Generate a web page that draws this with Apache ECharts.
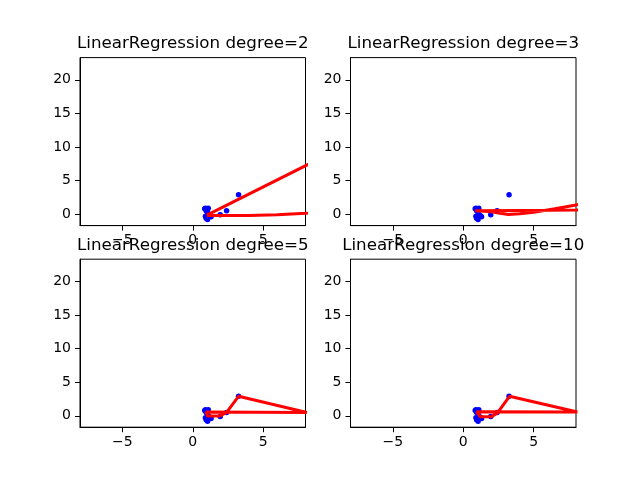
<!DOCTYPE html>
<html><head><meta charset="utf-8">
<script src="https://cdn.jsdelivr.net/npm/echarts@6/dist/echarts.min.js"></script>
<style>html,body{margin:0;padding:0;background:#fff}#c{width:640px;height:480px}</style>
</head><body><div id="c"></div>
<script>
// Scatter data (same in all panels)
var pointsX = [0.85, 0.9, 0.95, 1.0, 1.05, 1.1, 0.9, 0.95, 1.05, 1.2, 1.3, 1.95, 2.4, 3.25];
var pointsY = [0.8, 0.9, 0.5, 0.7, 0.3, 0.9, -0.3, -0.6, -0.8, -0.2, -0.4, -0.1, 0.5, 2.9];

// Fitted prediction polylines (drawn in data order)
var deg2LineX = [1.0, 12, 12, 8, 6, 4, 2, 1.0];
var deg2LineY = [-0.15, 11.4, 1.3, 0.13, -0.1, -0.2, -0.2, -0.2];
var deg3LineX = [0.85, 2.0, 2.6, 3.2, 4.0, 5.0, 6.5, 8, 12, 12, 8, 4, 0.85];
var deg3LineY = [0.5, 0.35, 0.13, -0.05, 0.05, 0.3, 0.8, 1.37, 3.0, 0.8, 0.62, 0.56, 0.5];
var deg5LineX = [8.1, 0.95, 0.9, 1.05, 1.9, 2.4, 3.25, 8.1];
var deg5LineY = [0.5, 0.55, 0.7, -0.05, -0.05, 0.5, 2.9, 0.5];
var deg10LineX = [8.1, 0.95, 0.95, 1.2, 2.0, 2.4, 3.28, 8.1];
var deg10LineY = [0.55, 0.6, 0.76, -0.13, -0.13, 0.37, 2.9, 0.55];

var titles = ['LinearRegression degree=2', 'LinearRegression degree=3', 'LinearRegression degree=5', 'LinearRegression degree=10'];
var xTicks = [-5, 0, 5];
var yTicks = [0, 5, 10, 15, 20];
var xRange = [-8, 8];
var yRange = [-1.7, 23.3];

var lines = [[deg2LineX, deg2LineY], [deg3LineX, deg3LineY], [deg5LineX, deg5LineY], [deg10LineX, deg10LineY]];

function zip(a, b) { return a.map(function (v, i) { return [v, b[i]]; }); }
function fmt(v) { return String(v).replace('-', '\u2212'); }

var font = 'DejaVu Sans';
var gridW = 225.5, gridH = 168;
var lefts = [80, 350.5], tops = [57.6, 259.2];
var grids = [], xAxes = [], yAxes = [], series = [], titleArr = [];
for (var i = 0; i < 4; i++) {
  var gx = lefts[i % 2], gy = tops[Math.floor(i / 2)];
  grids.push({ left: gx, top: gy, width: gridW, height: gridH, show: true, borderColor: '#000', borderWidth: 1, backgroundColor: '#fff' });
  xAxes.push({
    type: 'value', gridIndex: i, min: xRange[0], max: xRange[1],
    splitLine: { show: false },
    axisLine: { show: true, onZero: false, lineStyle: { color: '#000', width: 1 } },
    axisTick: { show: true, length: 5, lineStyle: { color: '#000' }, customValues: xTicks },
    axisLabel: { color: '#000', fontFamily: font, fontSize: 14, margin: 8, customValues: xTicks, formatter: fmt }
  });
  yAxes.push({
    type: 'value', gridIndex: i, min: yRange[0], max: yRange[1],
    splitLine: { show: false },
    axisLine: { show: true, onZero: false, lineStyle: { color: '#000', width: 1 } },
    axisTick: { show: true, length: 5, lineStyle: { color: '#000' }, customValues: yTicks },
    axisLabel: { color: '#000', fontFamily: font, fontSize: 14, margin: 9, customValues: yTicks, formatter: fmt }
  });
  titleArr.push({
    text: titles[i], left: gx + gridW / 2, top: gy - 22, textAlign: 'center', padding: 0,
    textStyle: { color: '#000', fontFamily: font, fontSize: 16.7, fontWeight: 'normal' }
  });
  series.push({
    type: 'scatter', xAxisIndex: i, yAxisIndex: i, data: zip(pointsX, pointsY),
    symbolSize: 5.5, itemStyle: { color: '#0000ff', opacity: 1 }, silent: true, z: 2
  });
  series.push({
    type: 'line', xAxisIndex: i, yAxisIndex: i, data: zip(lines[i][0], lines[i][1]),
    showSymbol: false, symbol: 'none', clip: true,
    lineStyle: { color: '#ff0000', width: 3 }, silent: true, z: 3, animation: false
  });
}

var chart = echarts.init(document.getElementById('c'), null, { renderer: 'canvas' });
chart.setOption({
  animation: false,
  backgroundColor: '#fff',
  title: titleArr,
  grid: grids,
  xAxis: xAxes,
  yAxis: yAxes,
  series: series
});
</script></body></html>
